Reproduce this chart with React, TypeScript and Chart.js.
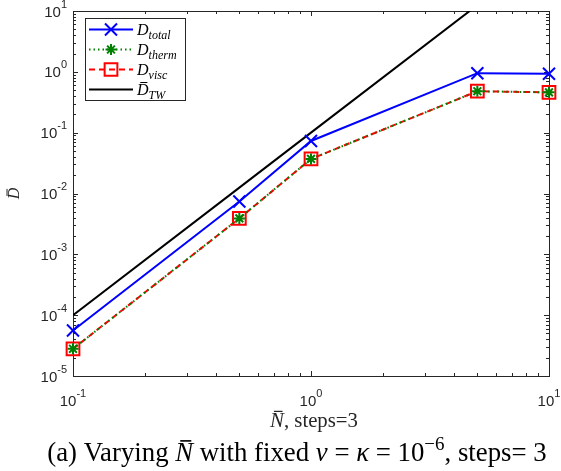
import React, { useEffect, useRef } from 'react';
import { Chart, registerables } from 'chart.js';

Chart.register(...registerables);

// ---------- data ----------
const N_VALUES = [0.1, 0.5, 1, 5, 10];
const D_TOTAL = [5.6e-5, 7.4e-3, 0.073, 0.95, 0.93];
const D_THERM = [2.8e-5, 3.9e-3, 0.037, 0.48, 0.46];
const D_VISC = [2.8e-5, 3.9e-3, 0.037, 0.48, 0.46];
const D_TW = [1e-4, 1.25e-2, 0.1, 12.5, 100];

const X_TICKS = [0.1, 1, 10];
const X_TICK_EXP = ['-1', '0', '1'];
const Y_TICKS = [1e-5, 1e-4, 1e-3, 1e-2, 1e-1, 1, 10];
const Y_TICK_EXP = ['-5', '-4', '-3', '-2', '-1', '0', '1'];

const LEGEND_SUBS = ['total', 'therm', 'visc', 'TW'];
const LEGEND_BAR = [false, false, false, true];

const SANS = "'Liberation Sans', Arial, Helvetica, sans-serif";
const SERIF = "'Liberation Serif', 'DejaVu Serif', serif";
const AXIS_COLOR = '#262626';

type Seg = { t: string; italic?: boolean; bar?: boolean; sup?: boolean; sub?: boolean };

function segFont(s: Seg, size: number) {
  const sz = s.sup || s.sub ? Math.round(size * 0.72) : size;
  return `${s.italic ? 'italic ' : ''}${sz}px ${SERIF}`;
}

function richWidth(ctx: CanvasRenderingContext2D, segs: Seg[], size: number) {
  let w = 0;
  for (const s of segs) {
    ctx.font = segFont(s, size);
    w += ctx.measureText(s.t).width;
  }
  return w;
}

function drawRich(ctx: CanvasRenderingContext2D, segs: Seg[], x0: number, baseline: number, size: number) {
  let x = x0;
  ctx.textAlign = 'left';
  ctx.textBaseline = 'alphabetic';
  for (const s of segs) {
    ctx.font = segFont(s, size);
    const w = ctx.measureText(s.t).width;
    let y = baseline;
    if (s.sup) y -= size * 0.42;
    if (s.sub) y += size * 0.25;
    ctx.fillText(s.t, x, y);
    if (s.bar) {
      const capTop = baseline - size * 0.66 - size * 0.12;
      ctx.fillRect(x + w * 0.28, capTop, w * 0.62, Math.max(1, size * 0.06));
    }
    x += w;
  }
  return x;
}

function drawPow(ctx: CanvasRenderingContext2D, x: number, baseline: number, exp: string, align: 'right' | 'center') {
  const base = `15px ${SANS}`;
  const sup = `11px ${SANS}`;
  ctx.font = base;
  const wb = ctx.measureText('10').width;
  ctx.font = sup;
  const ws = ctx.measureText(exp).width;
  const total = wb + ws;
  const x0 = align === 'right' ? x - total : x - total / 2;
  ctx.textAlign = 'left';
  ctx.textBaseline = 'alphabetic';
  ctx.font = base;
  ctx.fillText('10', x0, baseline);
  ctx.font = sup;
  ctx.fillText(exp, x0 + wb, baseline - 9);
}

function drawMarker(ctx: CanvasRenderingContext2D, style: string, r: number, x: number, y: number) {
  ctx.beginPath();
  if (style === 'crossRot' || style === 'star') {
    const o = Math.cos(Math.PI / 4) * r;
    ctx.moveTo(x - o, y - o); ctx.lineTo(x + o, y + o);
    ctx.moveTo(x - o, y + o); ctx.lineTo(x + o, y - o);
    if (style === 'star') {
      ctx.moveTo(x - r, y); ctx.lineTo(x + r, y);
      ctx.moveTo(x, y - r); ctx.lineTo(x, y + r);
    }
  } else if (style === 'rect') {
    const s = Math.SQRT1_2 * r;
    ctx.rect(x - s, y - s, 2 * s, 2 * s);
  }
  ctx.stroke();
}

const framePlugin = {
  id: 'matlabFrame',
  beforeDatasetsDraw(chart: any) {
    const { ctx, chartArea: a, scales } = chart;
    const xs = scales.x, ys = scales.y;
    ctx.save();
    ctx.fillStyle = '#ffffff';
    ctx.fillRect(a.left, a.top, a.right - a.left, a.bottom - a.top);
    ctx.strokeStyle = AXIS_COLOR;
    ctx.lineWidth = 1;
    ctx.strokeRect(Math.round(a.left) + 0.5, Math.round(a.top) + 0.5, Math.round(a.right - a.left), Math.round(a.bottom - a.top));
    ctx.beginPath();
    for (let d = -1; d <= 1; d++) {
      for (let k = 1; k <= 9; k++) {
        const v = k * Math.pow(10, d);
        if (v < 0.1 - 1e-12 || v > 10 + 1e-9) continue;
        const px = Math.round(xs.getPixelForValue(v)) + 0.5;
        const len = k === 1 ? 5 : 3;
        ctx.moveTo(px, a.bottom); ctx.lineTo(px, a.bottom - len);
        ctx.moveTo(px, a.top); ctx.lineTo(px, a.top + len);
      }
    }
    for (let d = -5; d <= 1; d++) {
      for (let k = 1; k <= 9; k++) {
        const v = k * Math.pow(10, d);
        if (v < 1e-5 * 0.999 || v > 10 * 1.001) continue;
        const py = Math.round(ys.getPixelForValue(v)) + 0.5;
        const len = k === 1 ? 5 : 3;
        ctx.moveTo(a.left, py); ctx.lineTo(a.left + len, py);
        ctx.moveTo(a.right, py); ctx.lineTo(a.right - len, py);
      }
    }
    ctx.stroke();

    ctx.fillStyle = AXIS_COLOR;
    X_TICKS.forEach((v, i) => {
      drawPow(ctx, xs.getPixelForValue(v), a.bottom + 30, X_TICK_EXP[i], 'center');
    });
    Y_TICKS.forEach((v, i) => {
      drawPow(ctx, a.left - 6, ys.getPixelForValue(v) + 5.5, Y_TICK_EXP[i], 'right');
    });

    // x title
    const xt: Seg[] = [{ t: 'N', italic: true, bar: true }, { t: ', steps=3' }];
    let sz = 15;
    sz = sz * 88 / richWidth(ctx, xt, sz);
    const xw = richWidth(ctx, xt, sz);
    drawRich(ctx, xt, 314 - xw / 2, a.bottom + 51, sz);

    // y title
    ctx.save();
    ctx.translate(19, (a.top + a.bottom) / 2);
    ctx.rotate(-Math.PI / 2);
    const yt: Seg[] = [{ t: 'D', italic: true, bar: true }];
    const yw = richWidth(ctx, yt, 16);
    drawRich(ctx, yt, -yw / 2, 0, 16);
    ctx.restore();

    // caption
    ctx.fillStyle = '#000000';
    const cap: Seg[] = [
      { t: '(a) Varying ' },
      { t: 'N', italic: true, bar: true },
      { t: ' with fixed ' },
      { t: 'ν', italic: true },
      { t: ' = ' },
      { t: 'κ', italic: true },
      { t: ' = 10' },
      { t: '−6', sup: true },
      { t: ', steps= 3' },
    ];
    let cs = 18;
    cs = cs * 500 / richWidth(ctx, cap, cs);
    const cw = richWidth(ctx, cap, cs);
    drawRich(ctx, cap, 297 - cw / 2, 461, cs);
    ctx.restore();
  },
  afterDatasetsDraw(chart: any) {
    const { ctx } = chart;
    ctx.save();
    const bx = 85, by = 18, bw = 100, bh = 82;
    ctx.fillStyle = '#ffffff';
    ctx.fillRect(bx, by, bw, bh);
    ctx.strokeStyle = AXIS_COLOR;
    ctx.lineWidth = 1;
    ctx.strokeRect(bx + 0.5, by + 0.5, bw, bh);
    chart.data.datasets.forEach((ds: any, i: number) => {
      const cy = by + 11.5 + i * 20;
      ctx.strokeStyle = ds.borderColor;
      ctx.lineWidth = ds.borderWidth;
      ctx.setLineDash(ds.borderDash || []);
      ctx.beginPath();
      ctx.moveTo(89, cy); ctx.lineTo(133, cy);
      ctx.stroke();
      ctx.setLineDash([]);
      if (ds.pointStyle && ds.pointRadius > 0) {
        ctx.strokeStyle = ds.pointBorderColor;
        ctx.lineWidth = ds.pointBorderWidth;
        drawMarker(ctx, ds.pointStyle, ds.pointRadius, 111, cy);
      }
      ctx.fillStyle = '#000000';
      const segs: Seg[] = [
        { t: 'D', italic: true, bar: LEGEND_BAR[i] },
        { t: LEGEND_SUBS[i], italic: true, sub: true },
      ];
      drawRich(ctx, segs, 137, cy + 5, 16);
    });
    ctx.restore();
  },
};

export default function App() {
  const ref = useRef<HTMLCanvasElement | null>(null);
  useEffect(() => {
    if (!ref.current) return;
    const mk = (vals: number[]) => N_VALUES.map((x, i) => ({ x, y: vals[i] }));
    const chart = new Chart(ref.current, {
      type: 'line',
      data: {
        datasets: [
          {
            label: 'D_total',
            data: mk(D_TOTAL),
            borderColor: '#0000ff',
            borderWidth: 2,
            pointStyle: 'crossRot',
            pointRadius: 8.5,
            pointBorderColor: '#0000ff',
            pointBackgroundColor: 'rgba(0,0,0,0)',
            pointBorderWidth: 2,
            clip: false,
          } as any,
          {
            label: 'D_therm',
            data: mk(D_THERM),
            borderColor: '#008000',
            borderWidth: 2,
            borderDash: [1.5, 3],
            pointStyle: 'star',
            pointRadius: 5.5,
            pointBorderColor: '#008000',
            pointBackgroundColor: 'rgba(0,0,0,0)',
            pointBorderWidth: 2,
            clip: false,
          },
          {
            label: 'D_visc',
            data: mk(D_VISC),
            borderColor: '#ff0000',
            borderWidth: 2,
            borderDash: [6, 4],
            pointStyle: 'rect',
            pointRadius: 9,
            pointBorderColor: '#ff0000',
            pointBackgroundColor: 'rgba(0,0,0,0)',
            pointBorderWidth: 2,
            clip: false,
          },
          {
            label: 'D_TW',
            data: mk(D_TW),
            borderColor: '#000000',
            borderWidth: 2,
            pointRadius: 0,
            pointStyle: false as any,
          },
        ],
      },
      options: {
        responsive: false,
        animation: false,
        layout: { padding: { left: 73, right: 12, top: 8, bottom: 95 } },
        scales: {
          x: { type: 'logarithmic', min: 0.1, max: 10, display: false },
          y: { type: 'logarithmic', min: 1e-5, max: 10, display: false },
        },
        plugins: { legend: { display: false }, tooltip: { enabled: false } },
        elements: { line: { tension: 0 } },
      },
      plugins: [framePlugin],
    });
    return () => chart.destroy();
  }, []);
  return (
    <div style={{ position: 'fixed', left: 0, top: 0, width: 561, height: 471, background: '#fff' }}>
      <canvas ref={ref} width={561} height={471} style={{ display: 'block' }} />
    </div>
  );
}
